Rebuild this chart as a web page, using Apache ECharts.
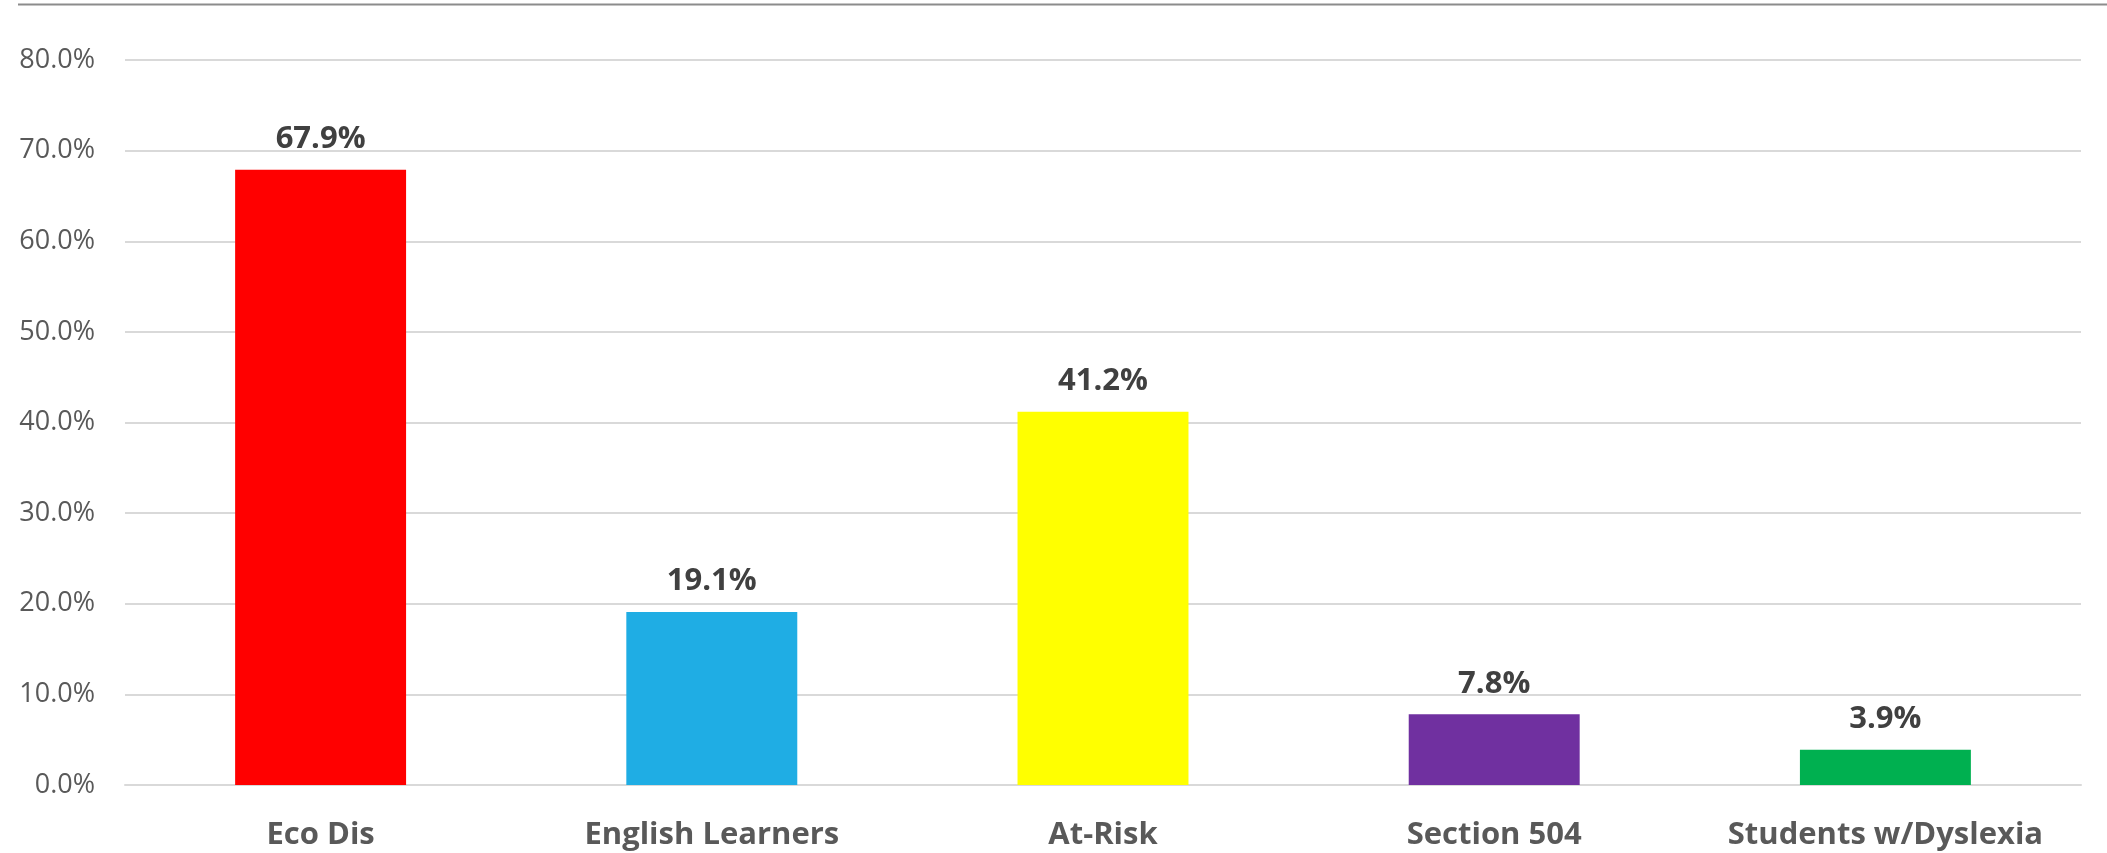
<!DOCTYPE html>
<html><head><meta charset="utf-8">
<script src="https://cdn.jsdelivr.net/npm/echarts@6/dist/echarts.min.js"></script>
<style>html,body{margin:0;padding:0;background:#fff}#c{width:2107px;height:853px}</style>
</head><body><div id="c"></div>
<script>
const categories = ["Eco Dis", "English Learners", "At-Risk", "Section 504", "Students w/Dyslexia"];
const values = [67.9, 19.1, 41.2, 7.8, 3.9];
const colors = ["#FF0000", "#1FADE4", "#FFFF00", "#7030A0", "#00B050"];
const yTicks = { min: 0, max: 80, interval: 10 };

const chart = echarts.init(document.getElementById('c'), null, { renderer: 'canvas' });
chart.setOption({
  animation: false,
  backgroundColor: '#fff',
  grid: { left: 125, right: 26, top: 60, bottom: 68, containLabel: false },
  graphic: [{ type: 'line', shape: { x1: 18, y1: 4.5, x2: 2107, y2: 4.5 }, style: { stroke: '#8c8c8c', lineWidth: 2 } }],
  xAxis: {
    type: 'category', data: categories,
    axisLine: { show: true, lineStyle: { color: '#d9d9d9', width: 2 } },
    axisTick: { show: false },
    axisLabel: { interval: 0, hideOverlap: false, color: '#595959', fontFamily: 'Open Sans', fontWeight: 'bold', fontSize: 31, margin: 35 }
  },
  yAxis: {
    type: 'value', min: yTicks.min, max: yTicks.max, interval: yTicks.interval,
    axisLine: { show: false }, axisTick: { show: false },
    splitLine: { lineStyle: { color: '#d9d9d9', width: 2 } },
    axisLabel: { color: '#595959', fontFamily: 'Open Sans', fontSize: 27, margin: 30,
      formatter: v => v.toFixed(1) + '%' }
  },
  series: [{
    type: 'bar', barWidth: '43.7%',
    data: values.map((v, i) => ({ value: v, itemStyle: { color: colors[i] } })),
    label: { show: true, position: 'top', distance: 15, color: '#404040', fontFamily: 'Open Sans',
      fontWeight: 'bold', fontSize: 31, formatter: p => p.value.toFixed(1) + '%' }
  }]
});
</script></body></html>
